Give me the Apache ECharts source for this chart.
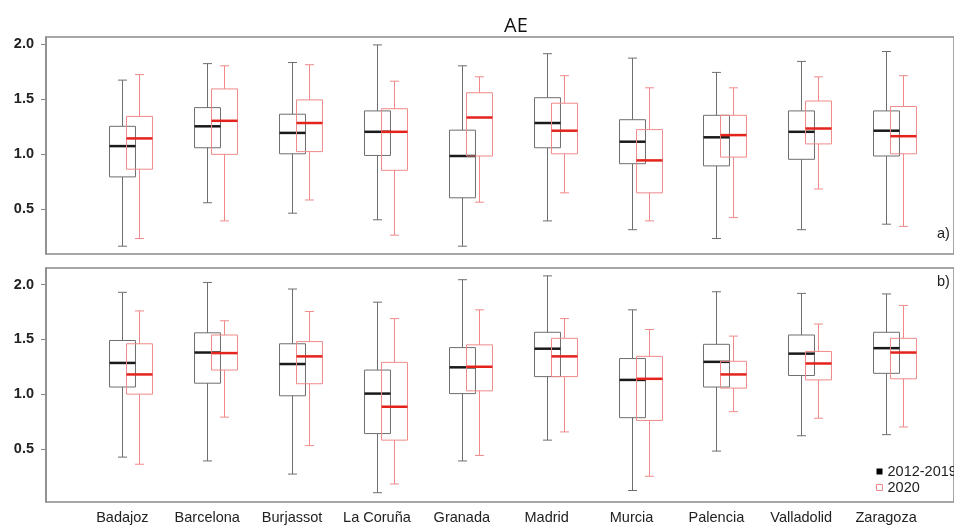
<!DOCTYPE html>
<html>
<head>
<meta charset="utf-8">
<script src="https://cdn.jsdelivr.net/npm/echarts@6/dist/echarts.min.js"></script>
<style>
html,body{margin:0;padding:0;background:#fff;}
#chart{width:954px;height:525px;}
</style>
</head>
<body>
<div id="chart"></div>
<script>
// Categories (stations)
const categories = ['Badajoz','Barcelona','Burjassot','La Coruña','Granada','Madrid','Murcia','Palencia','Valladolid','Zaragoza'];
// Y tick labels
const yTicks = [0.5, 1.0, 1.5, 2.0];
// Panel a) boxplot stats: [low, q1, median, q3, high]
const aBase = [
  [0.16, 0.79, 1.07, 1.25, 1.67],
  [0.555, 1.055, 1.25, 1.42, 1.82],
  [0.46, 1.00, 1.19, 1.36, 1.83],
  [0.40, 0.985, 1.20, 1.39, 1.99],
  [0.16, 0.60, 0.98, 1.215, 1.80],
  [0.39, 1.055, 1.28, 1.51, 1.91],
  [0.31, 0.91, 1.11, 1.31, 1.87],
  [0.23, 0.89, 1.15, 1.35, 1.74],
  [0.31, 0.95, 1.20, 1.39, 1.84],
  [0.36, 0.98, 1.21, 1.39, 1.93]
];
const a2020 = [
  [0.23, 0.86, 1.14, 1.34, 1.72],
  [0.39, 0.995, 1.30, 1.59, 1.80],
  [0.58, 1.02, 1.28, 1.49, 1.81],
  [0.26, 0.85, 1.20, 1.41, 1.66],
  [0.56, 0.98, 1.33, 1.555, 1.70],
  [0.645, 1.00, 1.21, 1.46, 1.71],
  [0.39, 0.645, 0.94, 1.22, 1.60],
  [0.42, 0.97, 1.17, 1.35, 1.60],
  [0.68, 1.09, 1.23, 1.48, 1.70],
  [0.34, 1.00, 1.16, 1.43, 1.71]
];
// Panel b)
const bBase = [
  [0.425, 1.065, 1.285, 1.49, 1.93],
  [0.39, 1.10, 1.38, 1.56, 2.02],
  [0.27, 0.985, 1.275, 1.46, 1.96],
  [0.10, 0.64, 1.005, 1.22, 1.84],
  [0.39, 1.005, 1.245, 1.425, 2.045],
  [0.58, 1.16, 1.415, 1.565, 2.08],
  [0.12, 0.785, 1.13, 1.325, 1.77],
  [0.48, 1.065, 1.295, 1.455, 1.935],
  [0.62, 1.17, 1.37, 1.54, 1.92],
  [0.63, 1.19, 1.42, 1.565, 1.915]
];
const b2020 = [
  [0.36, 1.00, 1.18, 1.46, 1.76],
  [0.79, 1.22, 1.375, 1.54, 1.67],
  [0.53, 1.095, 1.345, 1.48, 1.755],
  [0.18, 0.58, 0.885, 1.29, 1.69],
  [0.44, 1.03, 1.25, 1.45, 1.77],
  [0.655, 1.16, 1.345, 1.51, 1.69],
  [0.25, 0.76, 1.14, 1.345, 1.59],
  [0.84, 1.055, 1.18, 1.30, 1.53],
  [0.78, 1.13, 1.28, 1.39, 1.64],
  [0.70, 1.14, 1.38, 1.51, 1.81]
];

const seriesNames = ['2012-2019', '2020'];
const GRAY = '#6e6e6e', DARK = '#1a1a1a', PINK = '#f08a8a', RED = '#e3231c';
const FONT = '"Liberation Sans", Arial, sans-serif';

function toData(stats){ return stats.map((s, i) => [i].concat(s)); }

function makeRender(offset, boxColor, medColor){
  return function(params, api){
    const x = api.value(0) + offset;
    const low = api.coord([x, api.value(1)]);
    const q1 = api.coord([x, api.value(2)]);
    const med = api.coord([x, api.value(3)]);
    const q3 = api.coord([x, api.value(4)]);
    const high = api.coord([x, api.value(5)]);
    const unit = api.size([1, 0])[0];
    const hw = unit * 0.153, cw = unit * 0.053;
    const cx = Math.round(q1[0]) + 0.5;
    const ls = {stroke: boxColor, lineWidth: 1, fill: null};
    return {type: 'group', children: [
      {type: 'line', shape: {x1: cx, y1: high[1], x2: cx, y2: q3[1]}, style: ls},
      {type: 'line', shape: {x1: cx, y1: q1[1], x2: cx, y2: low[1]}, style: ls},
      {type: 'line', shape: {x1: cx - cw, y1: high[1], x2: cx + cw, y2: high[1]}, style: ls},
      {type: 'line', shape: {x1: cx - cw, y1: low[1], x2: cx + cw, y2: low[1]}, style: ls},
      {type: 'rect', shape: {x: cx - hw, y: q3[1], width: 2 * hw, height: q1[1] - q3[1]}, style: {stroke: boxColor, lineWidth: 1, fill: 'none'}},
      {type: 'line', shape: {x1: cx - hw, y1: med[1], x2: cx + hw, y2: med[1]}, style: {stroke: medColor, lineWidth: 2.5}}
    ]};
  };
}

const grids = [
  {left: 46, top: 37, width: 909.5, height: 217},
  {left: 46, top: 268, width: 909.5, height: 235}
];
const yRanges = [[0.089, 2.062], [0.015, 2.152]];

const xAxes = grids.map((g, gi) => ({
  type: 'value', gridIndex: gi, min: -0.9, max: 9.8,
  splitLine: {show: false}, axisLine: {show: false}, axisTick: {show: false},
  axisLabel: gi === 1 ? {
    show: true, customValues: categories.map((c, i) => i),
    formatter: v => categories[Math.round(v)] || '',
    fontFamily: FONT, fontSize: 14.5, color: '#222', margin: 8
  } : {show: false}
}));

const yAxes = grids.map((g, gi) => ({
  type: 'value', gridIndex: gi, min: yRanges[gi][0], max: yRanges[gi][1],
  splitLine: {show: false},
  axisLine: {show: true, onZero: false, lineStyle: {color: '#8a8a8a', width: 1.5}},
  axisTick: {show: true, length: 5, customValues: yTicks, lineStyle: {color: '#8a8a8a'}},
  axisLabel: {show: true, customValues: yTicks, formatter: v => v.toFixed(1),
    fontFamily: FONT, fontSize: 14.5, fontWeight: 'bold', color: '#222', margin: 12}
}));

const panels = [[aBase, a2020], [bBase, b2020]];
const series = [];
panels.forEach((p, gi) => {
  series.push({
    type: 'custom', name: seriesNames[0], xAxisIndex: gi, yAxisIndex: gi,
    renderItem: makeRender(0, GRAY, DARK), data: toData(p[0]),
    encode: {x: 0, y: [1, 2, 3, 4, 5]}, itemStyle: {color: '#000'}, z: 2
  });
  series.push({
    type: 'custom', name: seriesNames[1], xAxisIndex: gi, yAxisIndex: gi,
    renderItem: makeRender(0.2, PINK, RED), data: toData(p[1]),
    encode: {x: 0, y: [1, 2, 3, 4, 5]}, itemStyle: {color: RED}, z: 3
  });
});

const chart = echarts.init(document.getElementById('chart'), null, {renderer: 'canvas'});
chart.setOption({
  animation: false,
  backgroundColor: '#fff',
  title: {text: 'AE', left: 499, top: 11, textStyle: {fontFamily: '"Open Sans", sans-serif', fontSize: 20, fontWeight: 'normal', color: '#111'}},
  grid: grids.map(g => Object.assign({show: true, borderColor: '#8a8a8a', borderWidth: 1.5, backgroundColor: 'transparent'}, g)),
  xAxis: xAxes,
  yAxis: yAxes,
  legend: {
    orient: 'vertical', left: 876, top: 464, itemWidth: 6, itemHeight: 6, itemGap: 1, padding: 0,
    data: [
      {name: seriesNames[0], icon: 'rect', itemStyle: {color: '#000'}},
      {name: seriesNames[1], icon: 'rect', itemStyle: {color: '#fff', borderColor: PINK, borderWidth: 1}}
    ],
    textStyle: {fontFamily: FONT, fontSize: 14.5, color: '#222', padding: [0, 0, 0, 0]}
  },
  graphic: [
    {type: 'text', left: 937, top: 226, style: {text: 'a)', fontFamily: FONT, fontSize: 14.5, fill: '#222'}},
    {type: 'text', left: 937, top: 274, style: {text: 'b)', fontFamily: FONT, fontSize: 14.5, fill: '#222'}}
  ],
  series: series
});
</script>
</body>
</html>
